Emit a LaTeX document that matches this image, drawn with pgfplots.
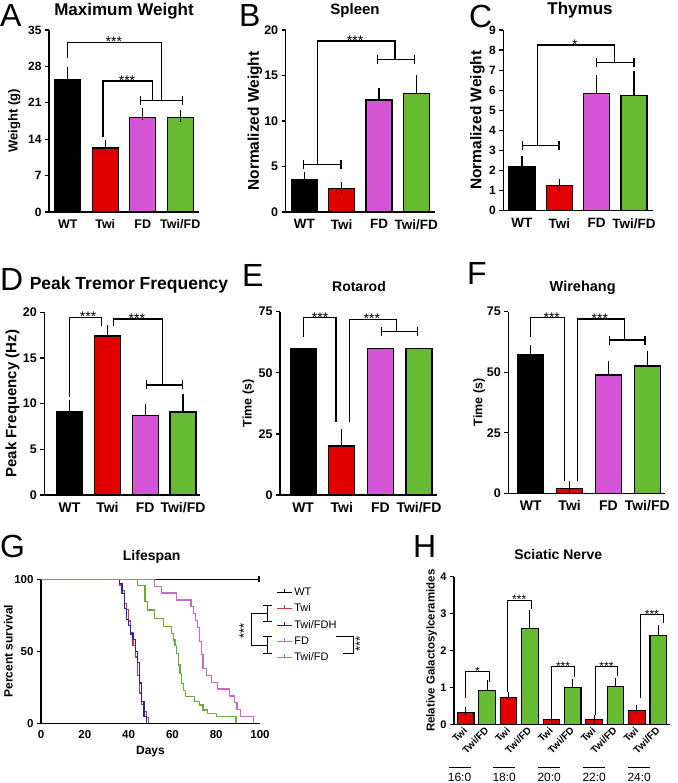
\documentclass[border=0pt]{standalone}
\usepackage{fontspec}
\setmainfont{Liberation Sans}
\usepackage{pgfplots}
\pgfplotsset{compat=1.18}

\definecolor{twired}{HTML}{E00000}
\definecolor{fdpink}{HTML}{D655D6}
\definecolor{twfgreen}{HTML}{66BB33}
\definecolor{kmred}{HTML}{D03535}
\definecolor{kmblue}{HTML}{2222C0}
\definecolor{kmpink}{HTML}{CC66CC}
\definecolor{kmgreen}{HTML}{66B03A}

\newcommand{\fs}[1]{\fontsize{#1}{#1}\selectfont}

\tikzset{
  brk/.style={line width=1.2pt, black},
  stars/.style={anchor=base, inner sep=0pt, yshift=-4.5pt, font=\fs{14}},
}
\pgfplotsset{
  prism/.style={
    scale only axis, anchor=south west,
    axis lines=left, axis line style={-, line width=1.3pt},
    ymin=0, clip=false,
    tick align=outside, major tick length=4pt,
    ytick style={line width=1.3pt, black},
    xtick style={draw=none},
    /pgf/number format/assume math mode=true,
  },
  ylab/.style={ylabel style={at={(axis description cs:#1,0.5)}, anchor=center}},
  catbars/.style={
    prism, ybar,
    xtick={0,1,2,3}, xticklabels={WT,Twi,FD,Twi/FD},
    every axis plot/.append style={bar width=26pt, bar shift=0pt, draw=black, line width=1.3pt},
    error bars/y dir=plus, error bars/y explicit,
    error bars/error bar style={line width=1.3pt, black},
    error bars/error mark options={mark size=6pt, line width=1.3pt, black},
  },
}
\newcommand{\grp}[3]{%
  \draw[brk] (axis cs:#1,#3) -- (axis cs:#2,#3);
  \draw[brk] ([yshift=-4.5pt]axis cs:#1,#3) -- ([yshift=4.5pt]axis cs:#1,#3);
  \draw[brk] ([yshift=-4.5pt]axis cs:#2,#3) -- ([yshift=4.5pt]axis cs:#2,#3);}

\begin{document}
\begin{tikzpicture}[x=1pt,y=1pt]
\useasboundingbox (0,0) rectangle (677,-783);
\fill[white] (0,0) rectangle (677,-783);

% panel letters
\node[anchor=base west, inner sep=0pt, font=\fs{32}] at (0,-27) {A};
\node[anchor=base west, inner sep=0pt, font=\fs{32}] at (239,-27) {B};
\node[anchor=base west, inner sep=0pt, font=\fs{32}] at (469,-28) {C};
\node[anchor=base west, inner sep=0pt, font=\fs{32}] at (0,-290) {D};
\node[anchor=base west, inner sep=0pt, font=\fs{32}] at (242,-287) {E};
\node[anchor=base west, inner sep=0pt, font=\fs{32}] at (467,-284) {F};
\node[anchor=base west, inner sep=0pt, font=\fs{32}] at (0,-557) {G};
\node[anchor=base west, inner sep=0pt, font=\fs{32}] at (413,-557) {H};

% titles
\node[anchor=base, inner sep=0pt, font=\bfseries\fs{17}] at (124,-16) {Maximum Weight};
\node[anchor=base, inner sep=0pt, font=\bfseries\fs{15}] at (355,-15) {Spleen};
\node[anchor=base, inner sep=0pt, font=\bfseries\fs{17}] at (580,-15) {Thymus};
\node[anchor=base, inner sep=0pt, font=\bfseries\fs{17.5}] at (129,-289.3) {Peak Tremor Frequency};
\node[anchor=base, inner sep=0pt, font=\bfseries\fs{14}] at (359,-291.7) {Rotarod};
\node[anchor=base, inner sep=0pt, font=\bfseries\fs{14.5}] at (582.7,-291.7) {Wirehang};
\node[anchor=base, inner sep=0pt, font=\bfseries\fs{14}] at (151.7,-560.7) {Lifespan};
\node[anchor=base, inner sep=0pt, font=\bfseries\fs{14}] at (558.3,-559.3) {Sciatic Nerve};

% ---------- A: maximum weight ----------
\begin{axis}[catbars, at={(49pt,-212pt)}, width=150pt, height=182pt,
  xmin=-0.5, xmax=3.5, ymax=35, ytick={0,7,14,21,28,35},
  yticklabel style={font=\bfseries\fs{12}},
  xticklabel style={font=\bfseries\fs{12.5}},
  ylabel={Weight (g)}, ylab=-0.231, ylabel style={font=\bfseries\fs{13}}]
\addplot[fill=black] coordinates {(0,25.4) +- (0,1.4)};
\addplot[fill=twired] coordinates {(1,12.3) +- (0,0.45)};
\addplot[fill=fdpink] coordinates {(2,18.2) +- (0,0.6)};
\addplot[fill=twfgreen] coordinates {(3,18.2) +- (0,0.35)};
\draw[brk] (axis cs:0,29.6) |- (axis cs:2.5,32.6) -- (axis cs:2.5,21.5);
\draw[brk] (axis cs:0.94,14.4) |- (axis cs:2.25,25.2) -- (axis cs:2.25,21.5);
\grp{1.93}{3.07}{21.5}
\node[stars] at (axis cs:1.23,32.6) {***};
\node[stars] at (axis cs:1.58,25.2) {***};
\end{axis}

% ---------- B: spleen ----------
\begin{axis}[catbars, at={(285.7pt,-212pt)}, width=149.3pt, height=182pt,
  xmin=-0.5, xmax=3.5, ymax=20, ytick={0,5,10,15,20},
  yticklabel style={font=\bfseries\fs{12.5}},
  xticklabel style={font=\bfseries\fs{13.5}},
  ylabel={Normalized Weight}, ylab=-0.206, ylabel style={font=\bfseries\fs{15.5}}]
\addplot[fill=black] coordinates {(0,3.55) +- (0,0.15)};
\addplot[fill=twired] coordinates {(1,2.55) +- (0,0.1)};
\addplot[fill=fdpink] coordinates {(2,12.3) +- (0,0.65)};
\addplot[fill=twfgreen] coordinates {(3,13.0) +- (0,1.35)};
\grp{-0.03}{0.98}{5.2}
\grp{1.95}{2.96}{16.8}
\draw[brk] (axis cs:0.36,5.2) |- (axis cs:2.43,18.8) -- (axis cs:2.43,16.8);
\node[stars] at (axis cs:1.36,18.8) {***};
\end{axis}

% ---------- C: thymus ----------
\begin{axis}[catbars, at={(503.3pt,-210.7pt)}, width=149.3pt, height=180.7pt,
  xmin=-0.5, xmax=3.5, ymax=9, ytick={0,1,...,9},
  yticklabel style={font=\bfseries\fs{12}},
  xticklabel style={font=\bfseries\fs{13.5}},
  ylabel={Normalized Weight}, ylab=-0.173, ylabel style={font=\bfseries\fs{15.5}}]
\addplot[fill=black] coordinates {(0,2.2) +- (0,0.25)};
\addplot[fill=twired] coordinates {(1,1.25) +- (0,0.05)};
\addplot[fill=fdpink] coordinates {(2,5.85) +- (0,0.6)};
\addplot[fill=twfgreen] coordinates {(3,5.75) +- (0,0.92)};
\grp{0.01}{0.99}{3.24}
\grp{2.0}{3.0}{7.39}
\draw[brk] (axis cs:0.42,3.24) |- (axis cs:2.47,8.25) -- (axis cs:2.47,7.39);
\node[stars] at (axis cs:1.42,8.25) {*};
\end{axis}

% ---------- D: tremor ----------
\begin{axis}[catbars, at={(44.3pt,-495pt)}, width=155.7pt, height=182.7pt,
  xmin=-0.67, xmax=3.45, ymax=20, ytick={0,5,10,15,20},
  yticklabel style={font=\bfseries\fs{12.5}},
  xticklabel style={font=\bfseries\fs{14}},
  ylabel={Peak Frequency (Hz)}, ylab=-0.205, ylabel style={font=\bfseries\fs{15}}]
\addplot[fill=black] coordinates {(0,9.15) +- (0,0.55)};
\addplot[fill=twired] coordinates {(1,17.4) +- (0,0.6)};
\addplot[fill=fdpink] coordinates {(2,8.7) +- (0,0.65)};
\addplot[fill=twfgreen] coordinates {(3,9.1) +- (0,1.25)};
\draw[brk] (axis cs:0,10.76) |- (axis cs:0.85,19.46) -- (axis cs:0.85,18.54);
\draw[brk] (axis cs:1.17,18.54) |- (axis cs:2.46,19.27) -- (axis cs:2.46,12.05);
\grp{2.04}{2.98}{12.05}
\node[stars] at (axis cs:0.49,19.46) {***};
\node[stars] at (axis cs:1.78,19.27) {***};
\end{axis}

% ---------- E: rotarod ----------
\begin{axis}[catbars, at={(280pt,-495pt)}, width=156.7pt, height=183.3pt,
  xmin=-0.6, xmax=3.46, ymax=75, ytick={0,25,50,75},
  yticklabel style={font=\bfseries\fs{12.5}},
  xticklabel style={font=\bfseries\fs{14}},
  ylabel={Time (s)}, ylab=-0.202, ylabel style={font=\bfseries\fs{12.5}}]
\addplot[fill=black, error bars/y dir=none] coordinates {(0,60)};
\addplot[fill=twired] coordinates {(1,20) +- (0,4.5)};
\addplot[fill=fdpink, error bars/y dir=none] coordinates {(2,60)};
\addplot[fill=twfgreen, error bars/y dir=none] coordinates {(3,60)};
\draw[brk] (axis cs:0,64.7) |- (axis cs:0.85,72.5) -- (axis cs:0.85,30);
\draw[brk] (axis cs:1.195,30) |- (axis cs:2.42,71.9) -- (axis cs:2.42,66.8);
\grp{2.03}{2.97}{66.8}
\node[stars] at (axis cs:0.44,72.5) {***};
\node[stars] at (axis cs:1.78,71.9) {***};
\end{axis}

% ---------- F: wirehang ----------
\begin{axis}[catbars, at={(508.3pt,-493.3pt)}, width=156.4pt, height=181.6pt,
  xmin=-0.58, xmax=3.45, ymax=75, ytick={0,25,50,75},
  yticklabel style={font=\bfseries\fs{12.5}},
  xticklabel style={font=\bfseries\fs{14}},
  ylabel={Time (s)}, ylab=-0.187, ylabel style={font=\bfseries\fs{12.5}}]
\addplot[fill=black] coordinates {(0,57.3) +- (0,1.6)};
\addplot[fill=twired] coordinates {(1,2) +- (0,0.5)};
\addplot[fill=fdpink] coordinates {(2,48.8) +- (0,3.4)};
\addplot[fill=twfgreen] coordinates {(3,52.6) +- (0,3.8)};
\draw[brk] (axis cs:0,64.6) |- (axis cs:0.86,72.5) -- (axis cs:0.86,5);
\draw[brk] (axis cs:1.21,5) |- (axis cs:2.41,72.0) -- (axis cs:2.41,63.3);
\grp{2.02}{2.94}{63.3}
\node[stars] at (axis cs:0.54,72.5) {***};
\node[stars] at (axis cs:1.78,72.0) {***};
\end{axis}

% ---------- G: lifespan ----------
\begin{axis}[prism, at={(41pt,-723.3pt)}, width=219pt, height=144pt,
  xmin=0, xmax=100, ymax=100,
  xtick={0,20,40,60,80,100}, ytick={0,50,100},
  xtick style={line width=1.3pt, black},
  ticklabel style={font=\bfseries\fs{11.5}},
  xlabel={Days}, xlabel style={font=\bfseries\fs{12}},
  ylabel={Percent survival}, ylab=-0.149, ylabel style={font=\bfseries\fs{12}},
  every axis plot/.append style={line width=1.2pt, const plot},
  legend cell align=left,
  legend style={draw=none, fill=none, at={(axis description cs:1.06,0.97)},
    anchor=north west, font=\fs{11}, row sep=3pt},
  legend image code/.code={
    \draw[#1, line width=1pt] (0pt,0pt) -- (15pt,0pt);
    \draw[#1, line width=1pt] (7.5pt,0pt) -- (7.5pt,3.5pt);},
]
\addplot[black] coordinates {(0,100) (99.5,100)};
\addlegendentry{WT}
\addplot[kmred] coordinates {(0,100) (36,96) (37,92) (38,83) (39,79) (40,71)
  (41,63) (42,54) (43,46) (44,33) (45,21) (46,13) (47,8) (48,4) (49,0)};
\addlegendentry{Twi}
\addplot[kmblue] coordinates {(0,100) (36,97) (37,90) (38,80) (39,72) (40,68)
  (41,62) (42,58) (43,50) (44,42) (45,28) (46,15) (47,5) (48,0)};
\addlegendentry{Twi/FDH}
\addplot[kmpink] coordinates {(0,100) (52,95.2) (55,90.5) (62,85.7) (68.5,81)
  (69.5,76.2) (70.5,71.4) (71.5,66.7) (72.5,57) (73.3,47.6) (74,38) (75.5,33.3)
  (78,28.6) (80.5,23.8) (86,19) (88.5,14.3) (89.5,9.5) (91,4.8) (97,0)};
\addlegendentry{FD}
\addplot[kmgreen] coordinates {(0,100) (44,95.5) (47.5,84.5) (48.5,78.7) (52,73)
  (56,67) (59.5,62.5) (60.5,57.8) (61.2,54) (62,48.6) (62.7,40.5) (63.5,34.7)
  (64.2,27.8) (65,23) (65.8,18.5) (70,15) (72.5,12.7) (74,9.3) (76,7) (80,4.6) (89,0)};
\addlegendentry{Twi/FD}
\addplot[black, only marks, mark=|, mark size=3pt, forget plot] coordinates {(99.5,100)};
\end{axis}

% significance brackets beside the legend
\draw[brk, line width=1pt] (263,-605) -- (271.7,-605) (267.3,-605) -- (267.3,-621) (263,-621) -- (271.7,-621);
\draw[brk, line width=1pt] (263,-636.7) -- (271.7,-636.7) (267.3,-636.7) -- (267.3,-653.3) (263,-653.3) -- (271.7,-653.3);
\draw[brk, line width=1pt] (267.3,-613) -- (251.7,-613) -- (251.7,-645) -- (267.3,-645);
\node[rotate=90, inner sep=0pt, font=\fs{13}] at (244,-631) {***};
\draw[brk, line width=1pt] (336,-636) -- (353.3,-636) -- (353.3,-653.3) -- (343,-653.3);
\node[rotate=90, inner sep=0pt, font=\fs{13}] at (360,-644) {***};

% ---------- H: sciatic nerve ----------
\begin{axis}[prism, ybar, at={(454pt,-724.7pt)}, width=216pt, height=148pt,
  xmin=-0.55, xmax=9.55, ymax=4, ytick={0,1,2,3,4},
  xtick={0,...,9},
  xticklabels={Twi,Twi/FD,Twi,Twi/FD,Twi,Twi/FD,Twi,Twi/FD,Twi,Twi/FD},
  xticklabel style={font=\bfseries\fs{10}, rotate=45, anchor=east, xshift=3pt},
  yticklabel style={font=\bfseries\fs{11}},
  ylabel={Relative Galactosylceramides}, ylab=-0.103, ylabel style={font=\bfseries\fs{11.5}},
  every axis plot/.append style={bar width=16.5pt, bar shift=0pt, draw=black, line width=1.1pt},
  error bars/y dir=plus, error bars/y explicit,
  error bars/error bar style={line width=1.1pt, black},
  error bars/error mark options={mark size=4pt, line width=1.1pt, black},
]
\addplot[fill=twired] coordinates {(0,0.33) +- (0,0.03) (2,0.74) +- (0,0.03)
  (4,0.15) +- (0,0.01) (6,0.15) +- (0,0.01) (8,0.39) +- (0,0.04)};
\addplot[fill=twfgreen] coordinates {(1,0.93) +- (0,0.17) (3,2.6) +- (0,0.38)
  (5,1.0) +- (0,0.12) (7,1.03) +- (0,0.12) (9,2.4) +- (0,0.2)};
\draw[brk, line width=1pt] (axis cs:0,0.71) |- (axis cs:1.1,1.43) -- (axis cs:1.1,1.16);
\draw[brk, line width=1pt] (axis cs:1.95,0.89) |- (axis cs:3.08,3.37) -- (axis cs:3.08,3.12);
\draw[brk, line width=1pt] (axis cs:4,0.26) |- (axis cs:5.1,1.57) -- (axis cs:5.1,1.3);
\draw[brk, line width=1pt] (axis cs:6.05,0.26) |- (axis cs:7.1,1.57) -- (axis cs:7.1,1.32);
\draw[brk, line width=1pt] (axis cs:8.15,0.71) |- (axis cs:9.25,2.98) -- (axis cs:9.25,2.74);
\node[stars, font=\fs{12}, yshift=0.8pt] at (axis cs:0.55,1.43) {*};
\node[stars, font=\fs{12}, yshift=0.8pt] at (axis cs:2.5,3.37) {***};
\node[stars, font=\fs{12}, yshift=0.8pt] at (axis cs:4.55,1.57) {***};
\node[stars, font=\fs{12}, yshift=0.8pt] at (axis cs:6.58,1.57) {***};
\node[stars, font=\fs{12}, yshift=0.8pt] at (axis cs:8.7,2.98) {***};
\end{axis}

% chain-length groups under panel H
\foreach \cx/\lab in {459.5/16:0, 504.2/18:0, 549.2/20:0, 594.2/22:0, 639.2/24:0} {
  \draw[line width=1pt] (\cx-11,-767) -- (\cx+11,-767);
  \node[anchor=base, inner sep=0pt, font=\fs{12}] at (\cx,-781.5) {\lab};
}
\end{tikzpicture}
\end{document}
